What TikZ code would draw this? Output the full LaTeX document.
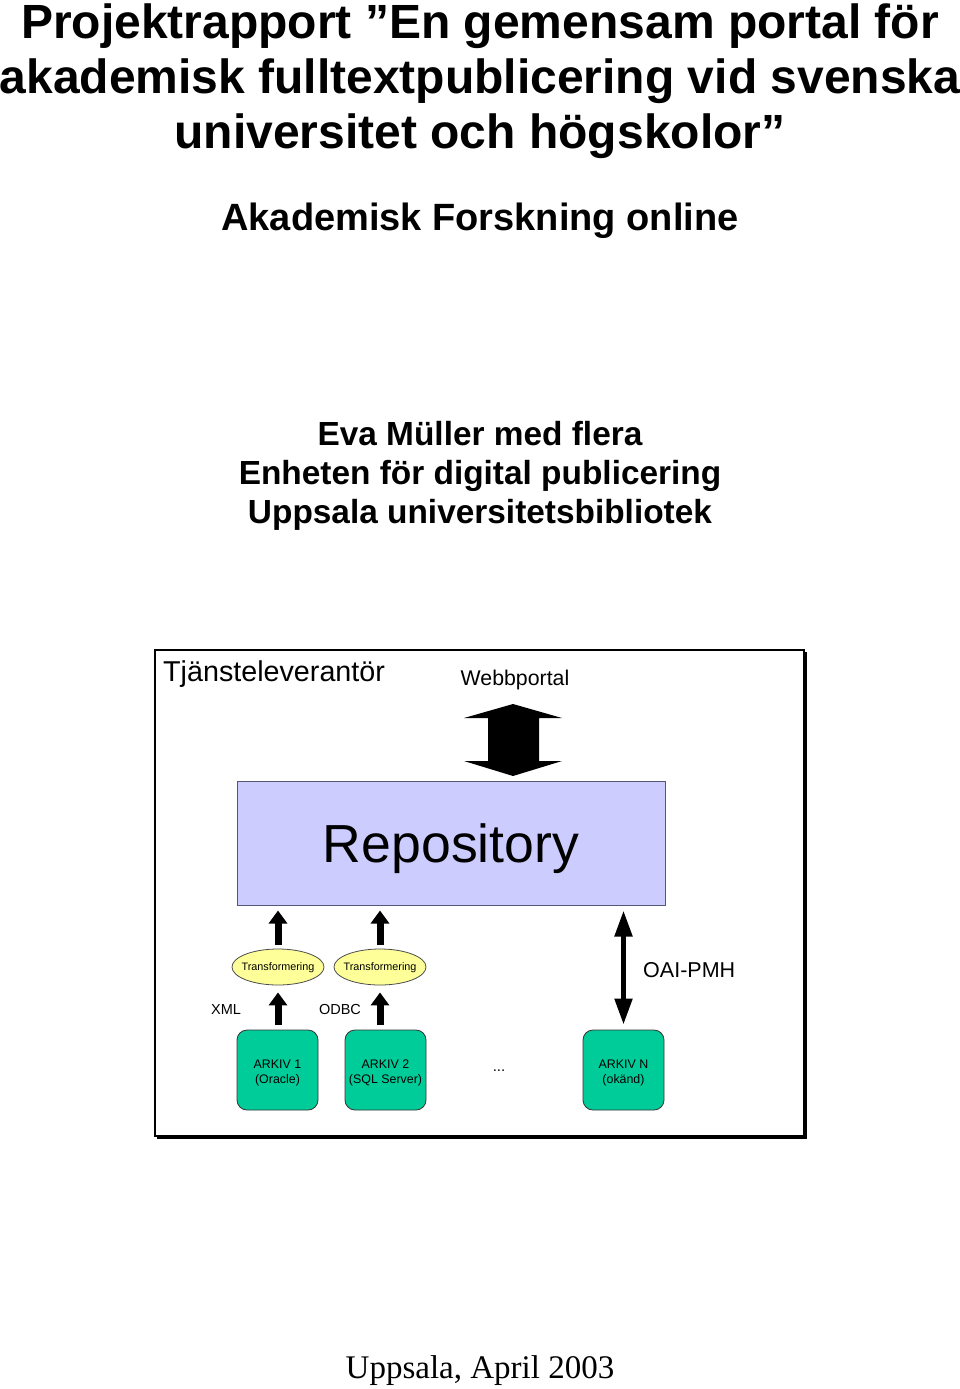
\documentclass[tikz,border=0pt]{standalone}
\usepackage{fontspec}
\setmainfont{Liberation Sans}
\newfontfamily\serifface{Liberation Serif}
\usetikzlibrary{arrows.meta,shapes.geometric}
\definecolor{repofill}{HTML}{CCCCFF}
\definecolor{repoline}{HTML}{555577}
\definecolor{ellfill}{HTML}{FFFF99}
\definecolor{arkfill}{HTML}{00CC99}
\tikzset{
  title/.style={font=\fontsize{48}{55}\selectfont\bfseries, align=center},
  subtitle/.style={font=\fontsize{38}{44}\selectfont\bfseries},
  author/.style={font=\fontsize{33.4}{39}\selectfont\bfseries, align=center},
  lbl/.style={font=\fontsize{#1}{#1}\selectfont, inner sep=0pt},
  transf/.style={ellipse, draw=black!70, fill=ellfill, line width=0.8pt, minimum width=92pt, minimum height=36pt, inner xsep=-4pt, inner ysep=0pt, text depth=0pt, font=\fontsize{10.8}{12}\selectfont},
  arkiv/.style={rectangle, rounded corners=10pt, draw=black!80, fill=arkfill, line width=0.8pt, minimum width=81pt, minimum height=80pt, inner sep=0pt},
  arktext/.style={align=center, inner sep=0pt, yshift=-3pt, font=\fontsize{12.4}{15}\selectfont},
  blockup/.style={line width=7pt, -{Triangle[width=18pt,length=13pt]}},
  oai/.style={line width=5pt, {Triangle[width=17pt,length=26pt]}-{Triangle[width=17pt,length=26pt]}},
}
\begin{document}
\begin{tikzpicture}[x=1pt,y=-1pt]
\useasboundingbox (0,0) rectangle (960,1389);
% title
\node[title] (t) at (480,81) {Projektrapport ”En gemensam portal för\\akademisk fulltextpublicering vid svenska\\universitet och högskolor”};
\node[subtitle] (st) at (480,221) {Akademisk Forskning online};
\node[author] (au) at (480,476) {Eva Müller med flera\\Enheten för digital publicering\\Uppsala universitetsbibliotek};
% frame
\draw[line width=1.2pt] (155,650) rectangle (804,1136);
\draw[line width=3.5pt] (805.5,652) -- (805.5,1137.5) -- (157,1137.5);
\node[lbl=28.7, anchor=west] (tj) at (163,674) {Tjänsteleverantör};
\node[lbl=21.3] (web) at (515,680) {Webbportal};
% repository
\node[rectangle, draw=repoline, fill=repofill, line width=1pt, minimum width=428pt, minimum height=124pt, inner sep=0pt, text depth=0pt, font=\fontsize{53.6}{60}\selectfont] (repo) at (451,843) {Repository};
% big double arrow
\coordinate (wtop) at (513,704);
\coordinate (wbot) at (513,776);
\fill (wtop) -- (562,718) -- (539,718) -- (539,761) -- (562,761) -- (wbot) -- (464,761) -- (488,761) -- (488,718) -- (464,718) -- cycle;
% ellipses
\node[transf] (e1) at (278,967) {Transformering};
\node[transf] (e2) at (380,967) {Transformering};
% archives
\node[arkiv, label={[arktext]center:{ARKIV 1\\(Oracle)}}] (a1) at (277.5,1070) {};
\node[arkiv, label={[arktext]center:{ARKIV 2\\(SQL Server)}}] (a2) at (385.5,1070) {};
\node[arkiv, label={[arktext]center:{ARKIV N\\(okänd)}}] (an) at (623.5,1070) {};
\node[lbl=15] (dots) at (499,1071) {...};
% labels
\node[lbl=14.5] (xml) at (226,1009) {XML};
\node[lbl=14.5] (odbc) at (340,1009) {ODBC};
\node[lbl=21.5, anchor=west] (oaipmh) at (643,970) {OAI-PMH};
% arrows
\draw[blockup, shorten <=4pt, shorten >=5pt] (e1.north) -- (e1.north |- repo.south);
\draw[blockup, shorten <=4pt, shorten >=5pt] (e2.north) -- (e2.north |- repo.south);
\draw[blockup, shorten <=5pt, shorten >=7pt] (a1.north -| e1.south) -- (e1.south);
\draw[blockup, shorten <=5pt, shorten >=7pt] (a2.north -| e2.south) -- (e2.south);
\draw[oai, shorten <=5pt, shorten >=5pt] (an.north) -- (an.north |- repo.south);
% footer
\node[font=\serifface\fontsize{33}{38}\selectfont] (date) at (480,1371) {Uppsala, April 2003};
\end{tikzpicture}
\end{document}
